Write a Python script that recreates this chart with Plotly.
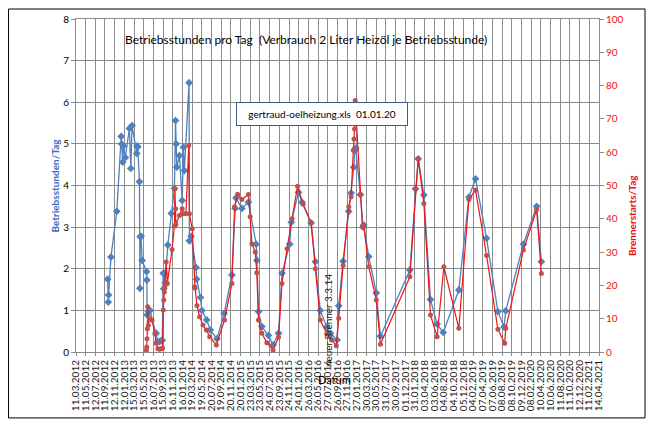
import plotly.graph_objects as go
from datetime import datetime

tick_labels = [
    "11.03.2012", "11.05.2012", "12.07.2012", "11.09.2012", "12.11.2012", "12.01.2013",
    "15.03.2013", "15.05.2013", "16.07.2013", "15.09.2013", "16.11.2013", "16.01.2014",
    "19.03.2014", "19.05.2014", "20.07.2014", "19.09.2014", "20.11.2014", "20.01.2015",
    "23.03.2015", "23.05.2015", "24.07.2015", "23.09.2015", "24.11.2015", "24.01.2016",
    "26.03.2016", "26.05.2016", "27.07.2016", "26.09.2016", "27.11.2016", "27.01.2017",
    "30.03.2017", "30.05.2017", "31.07.2017", "30.09.2017", "01.12.2017", "31.01.2018",
    "03.04.2018", "03.06.2018", "04.08.2018", "04.10.2018", "05.12.2018", "04.02.2019",
    "07.04.2019", "07.06.2019", "08.08.2019", "08.10.2019", "09.12.2019", "08.02.2020",
    "10.04.2020", "10.06.2020", "11.08.2020", "11.10.2020", "12.12.2020", "11.02.2021",
    "14.04.2021",
]

stunden_dates = [
    "2012-09-28", "2012-10-02", "2012-10-04", "2012-10-19", "2012-11-25", "2012-12-23",
    "2012-12-26", "2013-01-02", "2013-01-06", "2013-01-18", "2013-02-13", "2013-02-22",
    "2013-03-02", "2013-04-01", "2013-04-03", "2013-04-07", "2013-04-18", "2013-04-21",
    "2013-04-23", "2013-04-28", "2013-05-05", "2013-06-02", "2013-06-04", "2013-06-06",
    "2013-06-14", "2013-06-24", "2013-08-02", "2013-08-13", "2013-08-23", "2013-09-02",
    "2013-09-10", "2013-09-16", "2013-09-19", "2013-09-23", "2013-09-28", "2013-10-15",
    "2013-11-06", "2013-11-26", "2013-12-03", "2013-12-07", "2013-12-11", "2013-12-28",
    "2014-01-14", "2014-01-22", "2014-01-28", "2014-02-27", "2014-03-01", "2014-03-12",
    "2014-04-12", "2014-04-16", "2014-05-10", "2014-05-19", "2014-06-19", "2014-07-11",
    "2014-08-23", "2014-10-08", "2014-11-26", "2014-12-17", "2014-12-22", "2015-01-28",
    "2015-03-11", "2015-04-29", "2015-05-04", "2015-05-14", "2015-06-04", "2015-07-16",
    "2015-08-14", "2015-09-18", "2015-10-10", "2015-11-28", "2015-12-08", "2016-01-23",
    "2016-02-14", "2016-04-12", "2016-05-09", "2016-06-09", "2016-07-20", "2016-08-12",
    "2016-09-24", "2016-10-04", "2016-11-01", "2016-12-07", "2016-12-22", "2017-01-08",
    "2017-01-14", "2017-01-20", "2017-02-19", "2017-03-08", "2017-03-12", "2017-04-13",
    "2017-05-31", "2017-06-26", "2017-12-30", "2018-02-04", "2018-02-21", "2018-03-29",
    "2018-05-10", "2018-06-21", "2018-07-30", "2018-11-06", "2019-01-09", "2019-02-20",
    "2019-05-01", "2019-07-12", "2019-08-20", "2019-08-31", "2019-12-21", "2020-03-14",
    "2020-04-13",
]
stunden_vals = [
    1.75, 1.20, 1.37, 2.28, 3.38, 5.18,
    5.00, 4.56, 4.95, 4.67, 5.37, 4.41,
    5.44, 4.77, 4.95, 4.93, 4.09, 1.53,
    2.77, 2.78, 2.20, 1.93, 1.73, 0.89,
    0.97, 1.00, 0.45, 0.25, 0.25, 0.27,
    0.28, 1.89, 1.52, 1.88, 1.66, 2.57,
    3.33, 3.93, 5.56, 5.00, 4.44, 4.72,
    3.64, 4.92, 4.36, 6.47, 2.67, 2.78,
    2.03, 1.75, 1.31, 1.00, 0.77, 0.53,
    0.32, 0.93, 1.85, 3.45, 3.70, 3.45,
    3.60, 2.59, 2.20, 0.97, 0.61, 0.40,
    0.17, 0.45, 1.89, 2.59, 3.12, 3.84,
    3.60, 3.10, 2.17, 1.00, 0.60, 0.45,
    0.29, 1.11, 2.18, 3.38, 3.82, 4.44,
    4.84, 4.90, 3.78, 3.00, 3.05, 2.29,
    1.42, 0.38, 1.97, 3.92, 4.64, 3.77,
    1.26, 0.67, 0.47, 1.49, 3.72, 4.16,
    2.73, 0.97, 0.60, 0.99, 2.59, 3.50,
    2.17,
]

starts_dates = [
    "2013-06-01", "2013-06-03", "2013-06-05", "2013-06-07", "2013-06-09", "2013-06-13",
    "2013-06-20", "2013-07-07", "2013-07-25", "2013-08-02", "2013-08-13", "2013-08-23",
    "2013-09-02", "2013-09-12", "2013-09-16", "2013-09-19", "2013-09-23", "2013-09-26",
    "2013-10-05", "2013-10-12", "2013-11-11", "2013-11-26", "2013-11-29", "2013-12-03",
    "2013-12-05", "2013-12-28", "2014-01-14", "2014-01-22", "2014-02-07", "2014-02-25",
    "2014-03-01", "2014-03-19", "2014-04-03", "2014-04-06", "2014-04-18", "2014-05-05",
    "2014-05-26", "2014-06-17", "2014-07-08", "2014-08-19", "2014-10-10", "2014-11-26",
    "2014-12-13", "2015-01-01", "2015-01-28", "2015-03-11", "2015-03-22", "2015-04-02",
    "2015-04-23", "2015-05-03", "2015-05-14", "2015-06-04", "2015-07-06", "2015-08-14",
    "2015-09-18", "2015-10-10", "2015-11-11", "2015-12-13", "2016-01-17", "2016-02-21",
    "2016-04-12", "2016-05-09", "2016-06-09", "2016-07-20", "2016-08-20", "2016-09-19",
    "2016-10-04", "2016-11-01", "2016-12-07", "2016-12-22", "2017-01-05", "2017-01-09",
    "2017-01-13", "2017-01-17", "2017-02-19", "2017-03-04", "2017-03-12", "2017-04-13",
    "2017-05-31", "2017-06-26", "2017-12-30", "2018-02-04", "2018-02-21", "2018-03-29",
    "2018-05-10", "2018-06-21", "2018-08-03", "2018-11-06", "2019-01-09", "2019-02-20",
    "2019-05-01", "2019-07-12", "2019-08-24", "2019-08-31", "2019-12-21", "2020-03-14",
    "2020-04-13",
]
starts_vals = [
    0.5, 1.5, 4.0, 7.0, 13.6, 8.0,
    10.0, 9.5, 5.5, 2.6, 1.0, 0.8,
    1.0, 1.2, 12.6, 15.6, 18.0, 19.6,
    27.0, 20.6, 30.8, 37.8, 49.0, 43.0,
    38.3, 41.0, 43.0, 41.5, 41.6, 62.0,
    41.5, 37.0, 19.6, 19.2, 14.0, 10.6,
    8.1, 6.6, 4.6, 2.1, 9.6, 20.6,
    43.6, 47.4, 45.8, 47.3, 40.6, 32.4,
    30.0, 23.8, 9.6, 5.6, 2.8, 0.6,
    4.4, 20.6, 31.0, 40.0, 49.8, 44.4,
    38.8, 25.0, 9.6, 5.5, 3.6, 1.9,
    10.1, 26.0, 43.6, 46.6, 60.6, 64.0,
    67.0, 75.5, 47.3, 37.6, 38.0, 25.6,
    15.6, 2.3, 22.6, 49.0, 58.0, 44.6,
    11.1, 4.6, 25.6, 7.1, 45.8, 48.6,
    29.0, 6.8, 2.6, 7.1, 30.6, 42.8,
    23.6,
]

title_text = "Betriebsstunden pro Tag  (Verbrauch 2 Liter Heizöl je Betriebsstunde)"
file_text = "gertraud-oelheizung.xls  01.01.20"
note_text = "neuer Brenner 3.3.14"

tick_vals = [datetime.strptime(s, "%d.%m.%Y").strftime("%Y-%m-%d") for s in tick_labels]

FONT = "Lato"
BLUE = "#4f81bd"
RED_LINE = "#f01414"
RED_MARK = "#c0504d"
GRID = "#8c8c8c"

fig = go.Figure()
fig.add_trace(go.Scatter(
    x=stunden_dates, y=stunden_vals, mode="lines+markers", name="Betriebsstunden/Tag",
    line=dict(color=BLUE, width=1.3),
    marker=dict(symbol="diamond", size=6, color=BLUE),
    yaxis="y",
))
fig.add_trace(go.Scatter(
    x=starts_dates, y=starts_vals, mode="lines+markers", name="Brennerstarts/Tag",
    line=dict(color=RED_LINE, width=1.2),
    marker=dict(symbol="circle", size=5, color=RED_MARK),
    yaxis="y2",
))

fig.update_layout(
    width=646, height=419,
    margin=dict(l=68, r=55, t=11, b=75),
    paper_bgcolor="white", plot_bgcolor="white",
    showlegend=False,
    font=dict(family=FONT, size=10, color="black"),
    xaxis=dict(
        type="date", range=[tick_vals[0], tick_vals[-1]],
        tickmode="array", tickvals=tick_vals, ticktext=tick_labels,
        tickangle=-90, tickfont=dict(family=FONT, size=10, color="#202020"),
        showgrid=True, gridcolor=GRID, gridwidth=1,
        showline=True, linecolor=GRID, mirror=True,
        ticks="outside", ticklen=3, tickcolor=GRID, zeroline=False,
        automargin=False,
    ),
    yaxis=dict(
        range=[0, 8], dtick=1, tick0=0,
        showgrid=True, gridcolor=GRID, gridwidth=1,
        showline=True, linecolor=GRID, mirror=True,
        ticks="outside", ticklen=4, tickcolor=GRID,
        tickfont=dict(family=FONT, size=10, color="black"),
        zeroline=False, automargin=False,
    ),
    yaxis2=dict(
        range=[0, 100], dtick=10, tick0=0, overlaying="y", side="right",
        showgrid=False, showline=True, linecolor=GRID,
        ticks="outside", ticklen=4, tickcolor=GRID,
        tickfont=dict(family=FONT, size=10, color="#ee1111"),
        zeroline=False, automargin=False,
    ),
)

annotations = [
    dict(text=title_text, x=0.44, y=0.937, xref="paper", yref="paper",
         showarrow=False, font=dict(family=FONT, size=12, color="black"),
         xanchor="center", yanchor="middle"),
    dict(text=file_text, x=0.471, y=0.715, xref="paper", yref="paper",
         showarrow=False, font=dict(family=FONT, size=10, color="black"),
         bordercolor="#385d8a", borderwidth=1, borderpad=5, bgcolor="white",
         width=160, height=12, xanchor="center", yanchor="middle"),
    dict(text="Datum", x=0.495, y=-0.084, xref="paper", yref="paper",
         showarrow=False, font=dict(family=FONT, size=11, color="black"),
         xanchor="center", yanchor="middle"),
    dict(text=note_text, x=0.482, y=0.093, xref="paper", yref="paper",
         showarrow=False, textangle=-90, font=dict(family=FONT, size=10, color="#202020"),
         xanchor="center", yanchor="middle"),
    dict(text="<b>Betriebsstunden/Tag</b>", x=-0.042, y=0.5, xref="paper", yref="paper",
         showarrow=False, textangle=-90, font=dict(family=FONT, size=10, color="#3c6fc0"),
         xanchor="center", yanchor="middle"),
    dict(text="<b>Brennerstarts/Tag</b>", x=1.063, y=0.411, xref="paper", yref="paper",
         showarrow=False, textangle=-90, font=dict(family=FONT, size=10, color="#e81010"),
         xanchor="center", yanchor="middle"),
]
fig.update_layout(annotations=annotations)

fig.add_shape(type="rect", xref="paper", yref="paper",
              x0=-0.129, x1=1.088, y0=-0.198, y1=1.030,
              line=dict(color="black", width=1), fillcolor="rgba(0,0,0,0)", layer="above")

fig.write_html("out.html")
